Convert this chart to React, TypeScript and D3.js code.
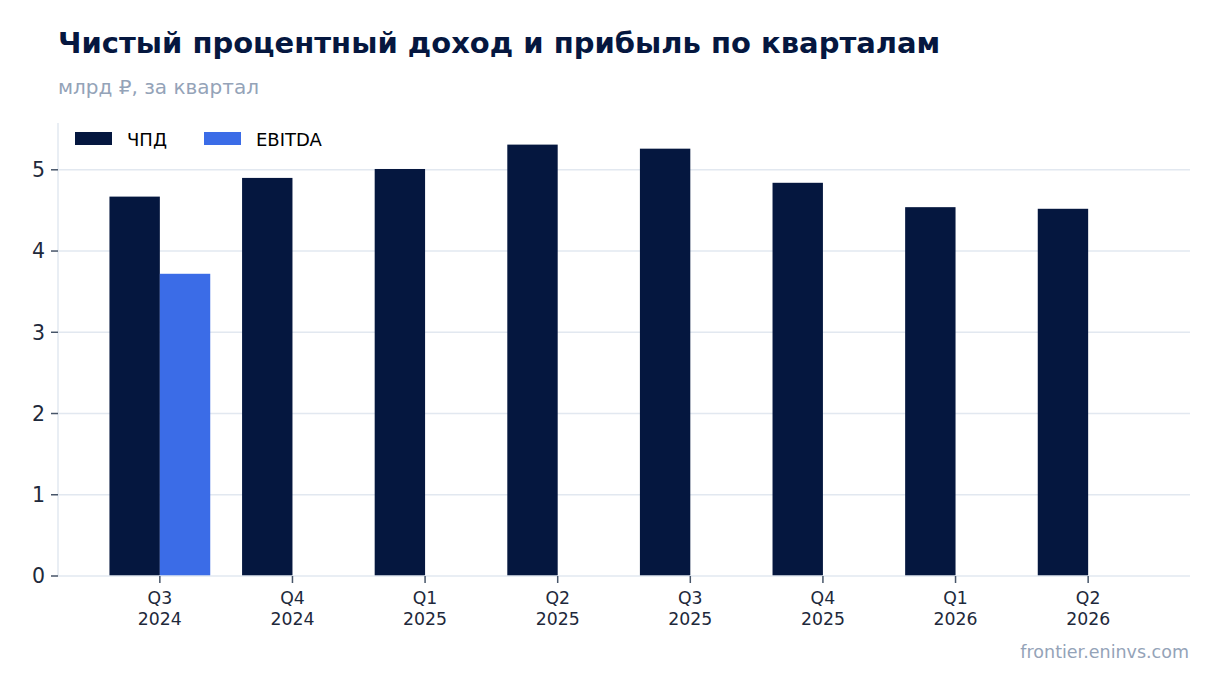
import { useEffect, useRef } from 'react'
import * as d3 from 'd3'

const quarters = ['Q3\n2024', 'Q4\n2024', 'Q1\n2025', 'Q2\n2025', 'Q3\n2025', 'Q4\n2025', 'Q1\n2026', 'Q2\n2026']
const nii = [4.67, 4.9, 5.01, 5.31, 5.26, 4.84, 4.54, 4.52]
const ebitda: (number | null)[] = [3.72, null, null, null, null, null, null, null]
const yTicks = [0, 1, 2, 3, 4, 5]

const NAVY = '#05173f'
const BLUE = '#3b6ce7'
const GRID = '#e2e8f0'
const MUTED = '#94a3b8'
const INK = '#1e293b'
const TICK = '#475569'
const FONT = 'DejaVu Sans, sans-serif'

const App = () => {
  const svgRef = useRef<SVGSVGElement | null>(null)

  useEffect(() => {
    const svg = d3.select(svgRef.current)
    svg.selectAll('*').remove()

    const width = 1220
    const height = 693
    const left = 58
    const right = 1190
    const top = 123
    const bottom = 576
    const barW = 0.38

    const x = d3.scaleLinear().domain([-0.768, quarters.length - 1 + 0.768]).range([left, right])
    const y = d3.scaleLinear().domain([0, 5.576]).range([bottom, top])

    svg.attr('width', width).attr('height', height).style('font-family', FONT)

    // title
    svg
      .append('text')
      .attr('x', 58)
      .attr('y', 53)
      .attr('font-size', 29)
      .attr('font-weight', 'bold')
      .attr('fill', NAVY)
      .text('Чистый процентный доход и прибыль по кварталам')

    svg
      .append('text')
      .attr('x', 58)
      .attr('y', 94)
      .attr('font-size', 20)
      .attr('fill', MUTED)
      .text('млрд ₽, за квартал')

    // grid
    svg
      .append('g')
      .selectAll('line')
      .data(yTicks.filter((t) => t > 0))
      .join('line')
      .attr('x1', left)
      .attr('x2', right)
      .attr('y1', (d) => y(d))
      .attr('y2', (d) => y(d))
      .attr('stroke', GRID)
      .attr('stroke-width', 1.5)

    // bars
    svg
      .append('g')
      .selectAll('rect')
      .data(nii)
      .join('rect')
      .attr('x', (_, i) => x(i - barW))
      .attr('y', (d) => y(d))
      .attr('width', x(barW) - x(0))
      .attr('height', (d) => y(0) - y(d))
      .attr('fill', NAVY)

    svg
      .append('g')
      .selectAll('rect')
      .data(ebitda.map((v, i) => ({ v, i })).filter((d) => d.v != null))
      .join('rect')
      .attr('x', (d) => x(d.i))
      .attr('y', (d) => y(d.v as number))
      .attr('width', x(barW) - x(0))
      .attr('height', (d) => y(0) - y(d.v as number))
      .attr('fill', BLUE)

    // spines
    svg.append('line').attr('x1', left).attr('x2', left).attr('y1', top).attr('y2', bottom).attr('stroke', GRID).attr('stroke-width', 1.5)
    svg.append('line').attr('x1', left).attr('x2', right).attr('y1', bottom).attr('y2', bottom).attr('stroke', GRID).attr('stroke-width', 1.5)

    // y axis
    const yAxis = svg.append('g')
    yTicks.forEach((t) => {
      yAxis.append('line').attr('x1', left - 7).attr('x2', left).attr('y1', y(t)).attr('y2', y(t)).attr('stroke', TICK).attr('stroke-width', 1.5)
      yAxis
        .append('text')
        .attr('x', left - 13)
        .attr('y', y(t))
        .attr('dy', '0.36em')
        .attr('text-anchor', 'end')
        .attr('font-size', 20.5)
        .attr('fill', INK)
        .text(t)
    })

    // x axis
    const xAxis = svg.append('g')
    quarters.forEach((q, i) => {
      xAxis.append('line').attr('x1', x(i)).attr('x2', x(i)).attr('y1', bottom).attr('y2', bottom + 7).attr('stroke', TICK).attr('stroke-width', 1.5)
      q.split('\n').forEach((line, j) => {
        xAxis
          .append('text')
          .attr('x', x(i))
          .attr('y', 604 + j * 21)
          .attr('text-anchor', 'middle')
          .attr('font-size', 17.3)
          .attr('fill', INK)
          .text(line)
      })
    })

    // legend
    const legend = svg.append('g')
    const items = [
      { label: 'ЧПД', color: NAVY, x: 75 },
      { label: 'EBITDA', color: BLUE, x: 204 },
    ]
    items.forEach((it) => {
      legend.append('rect').attr('x', it.x).attr('y', 132).attr('width', 37).attr('height', 13).attr('fill', it.color)
      legend
        .append('text')
        .attr('x', it.x + 52)
        .attr('y', 145.5)
        .attr('font-size', 18)
        .attr('fill', '#000')
        .text(it.label)
    })

    // footer
    svg
      .append('text')
      .attr('x', 1189)
      .attr('y', 658)
      .attr('text-anchor', 'end')
      .attr('font-size', 17.5)
      .attr('fill', MUTED)
      .text('frontier.eninvs.com')
  }, [])

  return <svg ref={svgRef} style={{ position: 'absolute', left: 0, top: 0, background: '#fff' }} />
}

export default App
